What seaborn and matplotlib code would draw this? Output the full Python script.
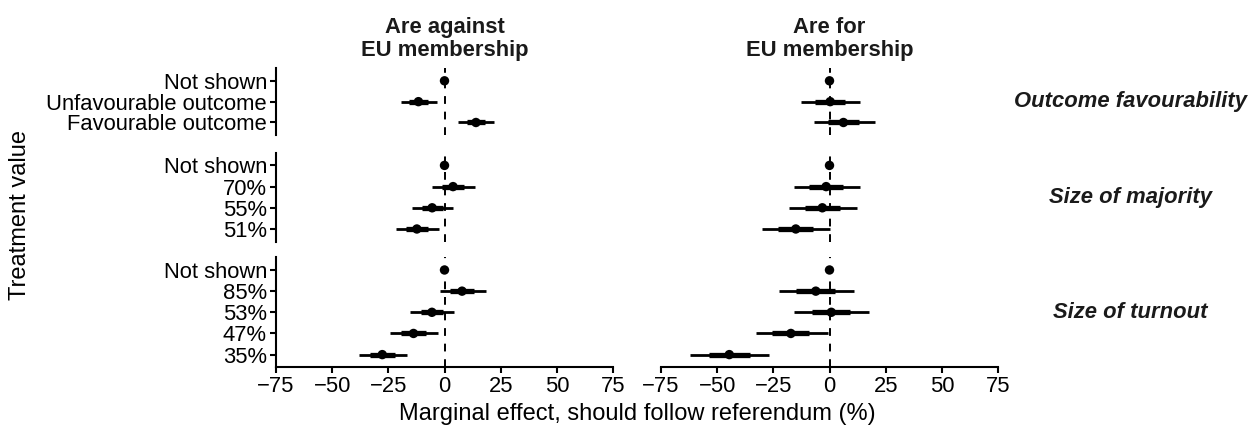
import matplotlib
matplotlib.use("Agg")
import matplotlib.pyplot as plt
import numpy as np
import pandas as pd
import seaborn as sns


# treatment groups (row facets) and their levels, top to bottom
groups = ["Outcome favourability", "Size of majority", "Size of turnout"]
outcome_levels = ["Not shown", "Unfavourable outcome", "Favourable outcome"]
majority_levels = ["Not shown", "70%", "55%", "51%"]
turnout_levels = ["Not shown", "85%", "53%", "47%", "35%"]

# column facets
panels = ["Are against\nEU membership", "Are for\nEU membership"]

# marginal effects (levels in the order above, groups concatenated)
against_est = [0, -11.6, 14.0, 0, 3.8, -5.5, -12.3, 0, 7.8, -5.6, -13.8, -27.7]
against_lo95 = [np.nan, -19.5, 6.0, np.nan, -5.5, -14.6, -21.6, np.nan, -2.2, -15.3, -24.4, -38.2]
against_hi95 = [np.nan, -3.4, 22.2, np.nan, 13.7, 3.9, -2.4, np.nan, 18.5, 4.3, -2.9, -16.8]
against_lo68 = [np.nan, -15.7, 9.9, np.nan, -1.2, -10.2, -17.2, np.nan, 2.5, -10.6, -19.3, -33.2]
against_hi68 = [np.nan, -7.5, 18.1, np.nan, 8.7, -0.8, -7.4, np.nan, 13.1, -0.6, -8.3, -22.2]

for_est = [0, 0.3, 6.2, 0, -1.5, -3.2, -15.0, 0, -6.1, 0.8, -17.2, -44.6]
for_lo95 = [np.nan, -12.6, -6.8, np.nan, -16.0, -18.1, -30.1, np.nan, -22.7, -15.7, -32.9, -62.3]
for_hi95 = [np.nan, 13.6, 20.3, np.nan, 13.6, 12.3, 0.3, np.nan, 10.9, 17.8, -0.7, -27.0]
for_lo68 = [np.nan, -6.5, -0.7, np.nan, -9.2, -11.0, -22.8, np.nan, -14.7, -7.7, -25.4, -53.6]
for_hi68 = [np.nan, 7.1, 13.1, np.nan, 6.2, 4.6, -7.2, np.nan, 2.5, 9.3, -9.0, -35.6]

x_ticks = [-75, -50, -25, 0, 25, 50, 75]


def build_frame():
    levels = [outcome_levels, majority_levels, turnout_levels]
    group_col = []
    level_col = []
    pos_col = []
    for g, lv in zip(groups, levels):
        group_col += [g] * len(lv)
        level_col += lv
        pos_col += list(range(len(lv)))
    frames = []
    for panel, est, lo, hi, ilo, ihi in [
        (panels[0], against_est, against_lo95, against_hi95, against_lo68, against_hi68),
        (panels[1], for_est, for_lo95, for_hi95, for_lo68, for_hi68),
    ]:
        frames.append(pd.DataFrame(dict(
            panel=panel, group=group_col, level=level_col, pos=pos_col,
            est=est, lo=lo, hi=hi, ilo=ilo, ihi=ihi)))
    return pd.concat(frames, ignore_index=True)


def main():
    sns.set_theme(style="ticks")
    plt.rcParams["font.family"] = ["Liberation Sans", "DejaVu Sans"]
    plt.rcParams["axes.unicode_minus"] = True
    plt.rcParams["text.color"] = "black"
    plt.rcParams["axes.labelcolor"] = "black"

    df = build_frame()
    W, H = 1255, 433
    fig = plt.figure(figsize=(W / 100, H / 100), dpi=100)

    # panel placement in pixels (left, right) and (top, bottom)
    cols = [(276, 613), (661, 998)]
    rows = [(68.3, 135.0), (152.7, 241.7), (257.3, 367.3)]
    fs = 15.8

    for j, panel in enumerate(panels):
        for i, group in enumerate(groups):
            x0, x1 = cols[j]
            y0, y1 = rows[i]
            ax = fig.add_axes([x0 / W, 1 - y1 / H, (x1 - x0) / W, (y1 - y0) / H])
            sub = df[(df.panel == panel) & (df.group == group)]
            n = len(sub)

            ax.axvline(0, color="black", lw=1.4, ls=(0, (4, 4)), zorder=1)
            ax.hlines(sub["pos"], sub["lo"], sub["hi"], color="black", lw=2.0, zorder=2)
            ax.hlines(sub["pos"], sub["ilo"], sub["ihi"], color="black", lw=3.8, zorder=2)
            sns.scatterplot(data=sub, x="est", y="pos", color="black", s=46,
                            edgecolor="none", legend=False, ax=ax, zorder=3)

            ax.set_xlim(-75, 75)
            ax.set_ylim(n - 1 + 0.6, -0.6)
            ax.set_xlabel("")
            ax.set_ylabel("")
            ax.set_facecolor("none")
            for s in ["top", "right"]:
                ax.spines[s].set_visible(False)

            if j == 0:
                ax.set_yticks(sub["pos"])
                ax.set_yticklabels(sub["level"], fontsize=fs, color="black")
                ax.spines["left"].set_linewidth(1.5)
                ax.spines["left"].set_color("black")
                ax.tick_params(axis="y", length=4, width=1.5, pad=2.5, color="black")
            else:
                ax.set_yticks([])
                ax.spines["left"].set_visible(False)
                ax.text(1.392, 0.5, group, transform=ax.transAxes, ha="center",
                        va="center", fontsize=fs, fontweight="bold", style="italic",
                        color="#1a1a1a")

            if i == len(groups) - 1:
                ax.set_xticks(x_ticks)
                ax.set_xticklabels([f"{t}".replace("-", "\u2212") for t in x_ticks],
                                   fontsize=fs, color="black")
                ax.spines["bottom"].set_linewidth(1.5)
                ax.spines["bottom"].set_color("black")
                ax.tick_params(axis="x", length=4.5, width=1.5, pad=2, color="black")
            else:
                ax.set_xticks([])
                ax.spines["bottom"].set_visible(False)

            if i == 0:
                ax.set_title(panel, fontsize=fs, fontweight="bold", color="#1a1a1a",
                             pad=9, linespacing=1.1)

    fig.text(637 / W, 1 - 420 / H, "Marginal effect, should follow referendum (%)",
             ha="center", va="baseline", fontsize=17, color="black")
    fig.text(20 / W, 1 - 215 / H, "Treatment value", rotation=90,
             ha="center", va="center", fontsize=17, color="black")

    fig.savefig("out.png", dpi=100)


if __name__ == "__main__":
    main()
